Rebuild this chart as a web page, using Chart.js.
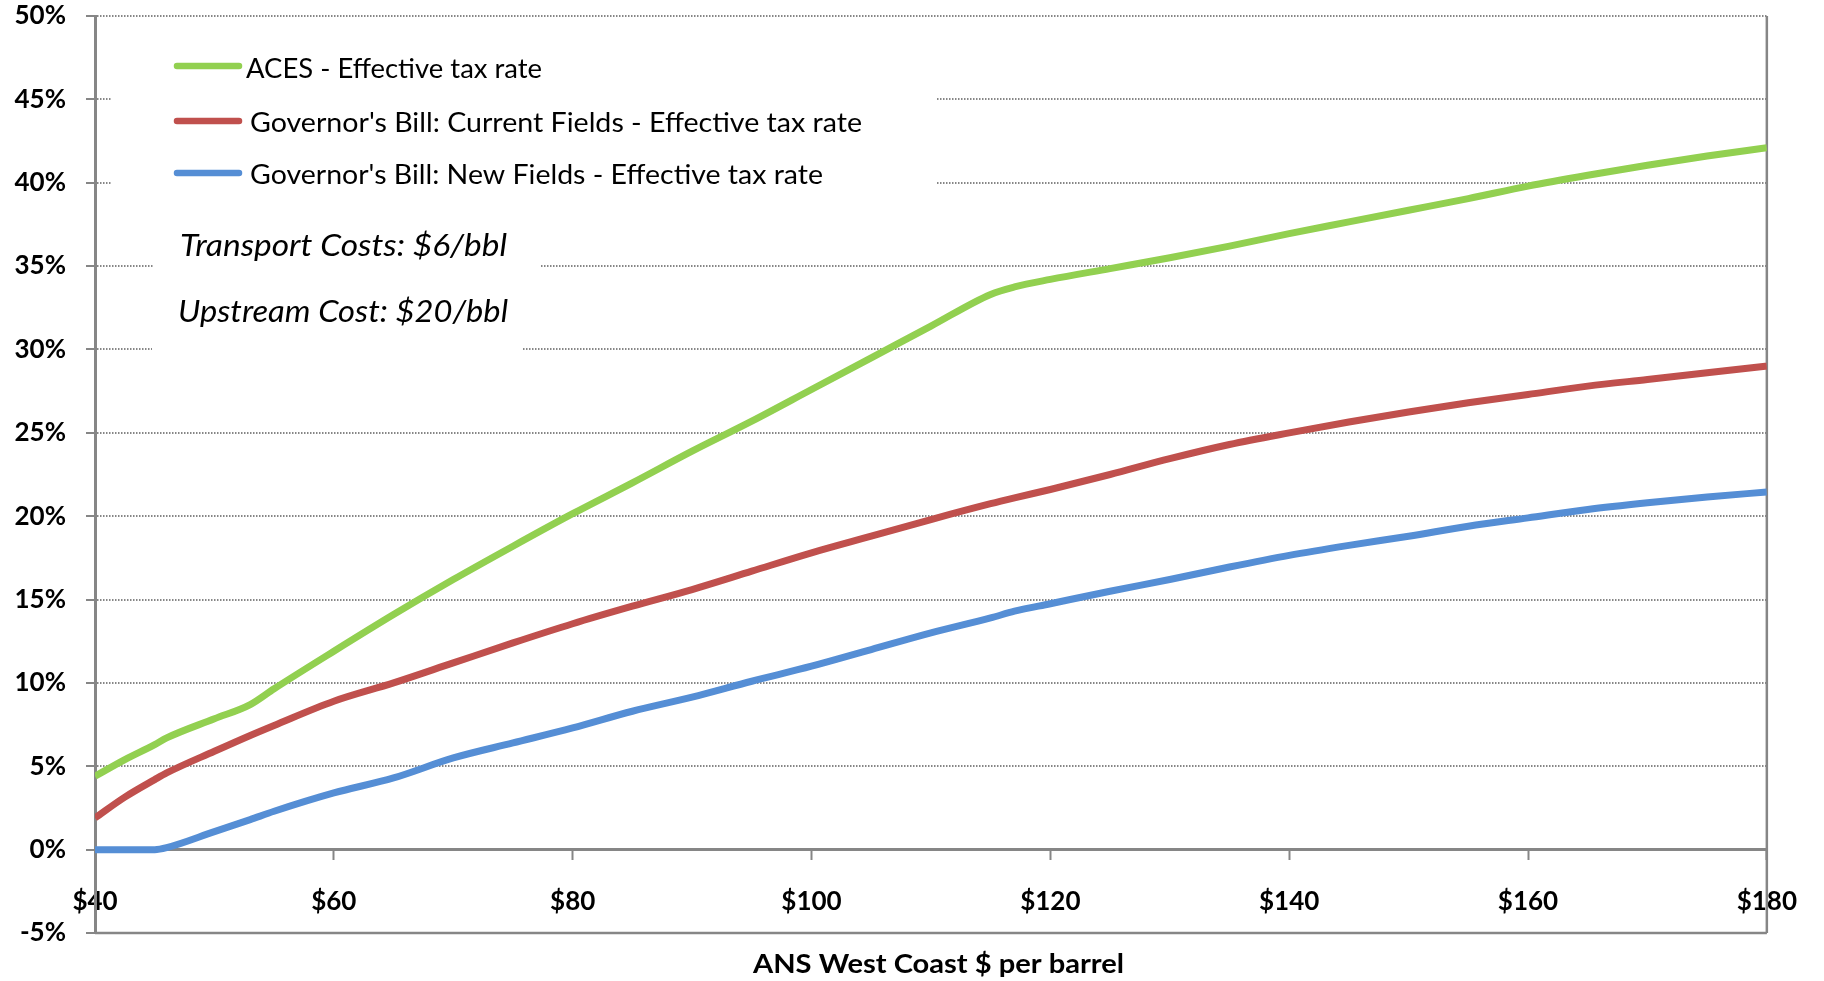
<!DOCTYPE html>
<html>
<head>
<meta charset="utf-8">
<title>Effective tax rate</title>
<script src="https://cdn.jsdelivr.net/npm/chart.js@4.4.1/dist/chart.umd.min.js"></script>
<style>
  html, body { margin: 0; padding: 0; background: #ffffff; overflow: hidden; }
  canvas { display: block; }
</style>
</head>
<body>
<canvas id="taxChart" width="1824" height="981"></canvas>
<script>
// ANS West Coast price, $ per barrel
const prices = [40, 42.5, 45, 46, 50, 53, 55, 60, 65, 70, 75, 80, 85, 90, 95, 100, 105, 110,
                115, 117, 120, 125, 130, 135, 140, 145, 150, 155, 160, 165, 170, 175, 180];

// effective tax rate, %
const acesRate = [4.4, 5.4, 6.3, 6.7, 7.85, 8.7, 9.65, 11.9, 14.1, 16.2, 18.2, 20.15, 22.0, 23.9, 25.7, 27.6, 29.5, 31.4,
                  33.3, 33.75, 34.2, 34.85, 35.5, 36.2, 36.95, 37.65, 38.35, 39.05, 39.8, 40.45, 41.05, 41.6, 42.1];
const govCurrentRate = [1.9, 3.15, 4.2, 4.6, 5.9, 6.85, 7.45, 8.9, 10.0, 11.2, 12.4, 13.55, 14.6, 15.6, 16.7, 17.8, 18.8, 19.8,
                        20.75, 21.1, 21.6, 22.5, 23.45, 24.3, 25.0, 25.65, 26.25, 26.8, 27.3, 27.8, 28.2, 28.6, 29.0];
const govNewRate = [0, 0, 0, 0.12, 1.08, 1.8, 2.3, 3.4, 4.3, 5.5, 6.4, 7.3, 8.3, 9.15, 10.1, 11.0, 12.0, 13.0,
                    13.9, 14.3, 14.75, 15.5, 16.2, 16.95, 17.65, 18.25, 18.8, 19.4, 19.9, 20.4, 20.8, 21.15, 21.45];

const seriesLabels = ['ACES - Effective tax rate',
                      "Governor's Bill: Current Fields - Effective tax rate",
                      "Governor's Bill: New Fields - Effective tax rate"];
const seriesColors = ['#92d050', '#c0504d', '#558ed5'];

const xTicks = [40, 60, 80, 100, 120, 140, 160, 180];
const notes = ['Transport Costs: $6/bbl', 'Upstream Cost: $20/bbl'];
const xTitle = 'ANS West Coast $ per barrel';

const FONT = "Lato, 'DejaVu Sans', sans-serif";
const AXIS_GREY = '#868686';

function toPoints(values) {
    return prices.map(function(p, i) { return {x: p, y: values[i]}; });
}

// draws text squeezed / stretched to a given width
function fitText(ctx, text, x, y, width) {
    let w = ctx.measureText(text).width;
    ctx.save();
    ctx.translate(x, y);
    ctx.scale(width / w, 1);
    ctx.fillText(text, 0, 0);
    ctx.restore();
}

// white boxes for legend + notes, legend entries, plot frame, axis title
const overlayPlugin = {
    id: 'overlay',
    beforeDatasetsDraw: function(chart) {
        let ctx = chart.ctx;
        let area = chart.chartArea;
        ctx.save();

        ctx.fillStyle = '#ffffff';
        ctx.fillRect(112, 35, 825, 180);
        ctx.fillRect(153, 222, 387, 78);
        ctx.fillRect(152, 300, 370, 68);

        // frame: right and bottom edges
        ctx.strokeStyle = AXIS_GREY;
        ctx.lineWidth = 2.5;
        ctx.beginPath();
        ctx.moveTo(area.right, area.top);
        ctx.lineTo(area.right, area.bottom);
        ctx.moveTo(area.left, area.bottom);
        ctx.lineTo(area.right, area.bottom);
        ctx.stroke();

        // legend
        let rows = [
            {lineY: 66, textX: 246, baseY: 78, width: 296},
            {lineY: 121, textX: 250, baseY: 132, width: 612},
            {lineY: 173, textX: 250, baseY: 184, width: 573}
        ];
        ctx.lineCap = 'round';
        ctx.lineWidth = 6.5;
        ctx.font = '26px ' + FONT;
        ctx.fillStyle = '#000000';
        ctx.textBaseline = 'alphabetic';
        ctx.textAlign = 'left';
        chart.data.datasets.forEach(function(ds, i) {
            let r = rows[i];
            ctx.strokeStyle = ds.borderColor;
            ctx.beginPath();
            ctx.moveTo(177, r.lineY);
            ctx.lineTo(239, r.lineY);
            ctx.stroke();
            fitText(ctx, ds.label, r.textX, r.baseY, r.width);
        });

        // notes
        ctx.font = 'italic 31px ' + FONT;
        fitText(ctx, notes[0], 180, 256, 327);
        fitText(ctx, notes[1], 178, 322, 330);

        // x axis title
        ctx.font = 'bold 26px ' + FONT;
        fitText(ctx, xTitle, 753, 973, 371);

        ctx.restore();
    }
};

const ctx = document.getElementById('taxChart').getContext('2d');

new Chart(ctx, {
    type: 'line',
    data: {
        datasets: [acesRate, govCurrentRate, govNewRate].map(function(values, i) {
            return {
                label: seriesLabels[i],
                data: toPoints(values),
                borderColor: seriesColors[i],
                backgroundColor: seriesColors[i],
                borderWidth: 7,
                borderJoinStyle: 'round',
                borderCapStyle: 'butt',
                pointRadius: 0,
                cubicInterpolationMode: 'monotone',
                fill: false
            };
        })
    },
    options: {
        responsive: false,
        devicePixelRatio: 1,
        animation: false,
        layout: { padding: { top: 16, right: 52, bottom: 48, left: 0 } },
        plugins: {
            legend: { display: false },
            tooltip: { enabled: false },
            title: { display: false }
        },
        scales: {
            x: {
                type: 'linear',
                position: { y: 0 },
                min: 40,
                max: 180,
                afterBuildTicks: function(scale) {
                    scale.ticks = xTicks.map(function(v) { return {value: v}; });
                },
                ticks: {
                    padding: 27,
                    color: '#000000',
                    font: { family: FONT, size: 26, weight: 'bold' },
                    maxRotation: 0,
                    callback: function(v) { return '$' + v; }
                },
                grid: {
                    drawOnChartArea: false,
                    drawTicks: true,
                    tickLength: 9,
                    tickColor: AXIS_GREY,
                    tickWidth: 2
                },
                border: { display: true, color: AXIS_GREY, width: 3 }
            },
            y: {
                min: -5,
                max: 50,
                afterFit: function(scale) {
                    scale.width = 95;
                    scale.paddingTop = 0;
                    scale.paddingBottom = 0;
                },
                ticks: {
                    stepSize: 5,
                    padding: 20,
                    color: '#000000',
                    font: { family: FONT, size: 26, weight: 'bold' },
                    callback: function(v) { return v + '%'; }
                },
                grid: {
                    color: '#868686',
                    lineWidth: 2,
                    drawTicks: true,
                    tickLength: 9,
                    tickColor: AXIS_GREY,
                    tickWidth: 2
                },
                border: { display: true, color: AXIS_GREY, width: 3, dash: [1.5, 1.5] }
            }
        }
    },
    plugins: [overlayPlugin]
});
</script>
</body>
</html>
